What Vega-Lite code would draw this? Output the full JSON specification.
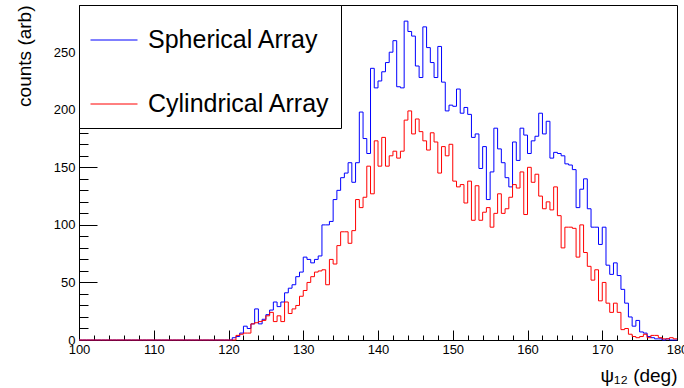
{
  "$schema": "https://vega.github.io/schema/vega-lite/v6.json",
  "width": 598,
  "height": 335,
  "autosize": {"type": "none"},
  "padding": {"left": 79, "top": 5, "right": 7, "bottom": 48},
  "background": "white",
  "config": {"font": "Liberation Sans", "view": {"stroke": "#000", "strokeWidth": 1}},
  "data": {"values": [
    {"psi":100,"Spherical Array":0,"Cylindrical Array":0},{"psi":100.5,"Spherical Array":0,"Cylindrical Array":0},{"psi":101,"Spherical Array":0,"Cylindrical Array":0},{"psi":101.5,"Spherical Array":0,"Cylindrical Array":0},
    {"psi":102,"Spherical Array":0,"Cylindrical Array":0},{"psi":102.5,"Spherical Array":0,"Cylindrical Array":0},{"psi":103,"Spherical Array":0,"Cylindrical Array":0},{"psi":103.5,"Spherical Array":0,"Cylindrical Array":0},
    {"psi":104,"Spherical Array":0,"Cylindrical Array":0},{"psi":104.5,"Spherical Array":0,"Cylindrical Array":0},{"psi":105,"Spherical Array":0,"Cylindrical Array":0},{"psi":105.5,"Spherical Array":0,"Cylindrical Array":0},
    {"psi":106,"Spherical Array":0,"Cylindrical Array":0},{"psi":106.5,"Spherical Array":0,"Cylindrical Array":0},{"psi":107,"Spherical Array":0,"Cylindrical Array":0},{"psi":107.5,"Spherical Array":0,"Cylindrical Array":0},
    {"psi":108,"Spherical Array":0,"Cylindrical Array":0},{"psi":108.5,"Spherical Array":0,"Cylindrical Array":0},{"psi":109,"Spherical Array":0,"Cylindrical Array":0},{"psi":109.5,"Spherical Array":0,"Cylindrical Array":0},
    {"psi":110,"Spherical Array":0,"Cylindrical Array":0},{"psi":110.5,"Spherical Array":0,"Cylindrical Array":0},{"psi":111,"Spherical Array":0,"Cylindrical Array":0},{"psi":111.5,"Spherical Array":0,"Cylindrical Array":0},
    {"psi":112,"Spherical Array":0,"Cylindrical Array":0},{"psi":112.5,"Spherical Array":0,"Cylindrical Array":0},{"psi":113,"Spherical Array":0,"Cylindrical Array":0},{"psi":113.5,"Spherical Array":0,"Cylindrical Array":0},
    {"psi":114,"Spherical Array":0,"Cylindrical Array":0},{"psi":114.5,"Spherical Array":0,"Cylindrical Array":0},{"psi":115,"Spherical Array":0,"Cylindrical Array":0},{"psi":115.5,"Spherical Array":0,"Cylindrical Array":0},
    {"psi":116,"Spherical Array":0,"Cylindrical Array":0},{"psi":116.5,"Spherical Array":0,"Cylindrical Array":0},{"psi":117,"Spherical Array":0,"Cylindrical Array":0},{"psi":117.5,"Spherical Array":0,"Cylindrical Array":0},
    {"psi":118,"Spherical Array":0,"Cylindrical Array":0},{"psi":118.5,"Spherical Array":0,"Cylindrical Array":0},{"psi":119,"Spherical Array":0,"Cylindrical Array":0},{"psi":119.5,"Spherical Array":0,"Cylindrical Array":0},
    {"psi":120,"Spherical Array":0,"Cylindrical Array":0},{"psi":120.5,"Spherical Array":2,"Cylindrical Array":0},{"psi":121,"Spherical Array":3,"Cylindrical Array":4},{"psi":121.5,"Spherical Array":6,"Cylindrical Array":5},
    {"psi":122,"Spherical Array":12,"Cylindrical Array":6},{"psi":122.5,"Spherical Array":10,"Cylindrical Array":6},{"psi":123,"Spherical Array":14,"Cylindrical Array":14},{"psi":123.5,"Spherical Array":27,"Cylindrical Array":15},
    {"psi":124,"Spherical Array":14,"Cylindrical Array":16},{"psi":124.5,"Spherical Array":18,"Cylindrical Array":17},{"psi":125,"Spherical Array":22,"Cylindrical Array":21},{"psi":125.5,"Spherical Array":26,"Cylindrical Array":24},
    {"psi":126,"Spherical Array":33,"Cylindrical Array":16},{"psi":126.5,"Spherical Array":29,"Cylindrical Array":21},{"psi":127,"Spherical Array":33,"Cylindrical Array":16},{"psi":127.5,"Spherical Array":41,"Cylindrical Array":33},
    {"psi":128,"Spherical Array":45,"Cylindrical Array":23},{"psi":128.5,"Spherical Array":48,"Cylindrical Array":27},{"psi":129,"Spherical Array":55,"Cylindrical Array":30},{"psi":129.5,"Spherical Array":59,"Cylindrical Array":38},
    {"psi":130,"Spherical Array":72,"Cylindrical Array":43},{"psi":130.5,"Spherical Array":70,"Cylindrical Array":50},{"psi":131,"Spherical Array":67,"Cylindrical Array":55},{"psi":131.5,"Spherical Array":70,"Cylindrical Array":59},
    {"psi":132,"Spherical Array":73,"Cylindrical Array":60},{"psi":132.5,"Spherical Array":100,"Cylindrical Array":61},{"psi":133,"Spherical Array":100,"Cylindrical Array":48},{"psi":133.5,"Spherical Array":103,"Cylindrical Array":70},
    {"psi":134,"Spherical Array":122,"Cylindrical Array":66},{"psi":134.5,"Spherical Array":130,"Cylindrical Array":82},{"psi":135,"Spherical Array":141,"Cylindrical Array":94},{"psi":135.5,"Spherical Array":145,"Cylindrical Array":94},
    {"psi":136,"Spherical Array":154,"Cylindrical Array":84},{"psi":136.5,"Spherical Array":137,"Cylindrical Array":95},{"psi":137,"Spherical Array":154,"Cylindrical Array":122},{"psi":137.5,"Spherical Array":198,"Cylindrical Array":115},
    {"psi":138,"Spherical Array":175,"Cylindrical Array":124},{"psi":138.5,"Spherical Array":162,"Cylindrical Array":151},{"psi":139,"Spherical Array":236,"Cylindrical Array":127},{"psi":139.5,"Spherical Array":219,"Cylindrical Array":173},
    {"psi":140,"Spherical Array":225,"Cylindrical Array":151},{"psi":140.5,"Spherical Array":233,"Cylindrical Array":176},{"psi":141,"Spherical Array":241,"Cylindrical Array":151},{"psi":141.5,"Spherical Array":250,"Cylindrical Array":160},
    {"psi":142,"Spherical Array":260,"Cylindrical Array":164},{"psi":142.5,"Spherical Array":220,"Cylindrical Array":158},{"psi":143,"Spherical Array":219,"Cylindrical Array":164},{"psi":143.5,"Spherical Array":277,"Cylindrical Array":191},
    {"psi":144,"Spherical Array":268,"Cylindrical Array":199},{"psi":144.5,"Spherical Array":264,"Cylindrical Array":179},{"psi":145,"Spherical Array":238,"Cylindrical Array":192},{"psi":145.5,"Spherical Array":228,"Cylindrical Array":181},
    {"psi":146,"Spherical Array":272,"Cylindrical Array":173},{"psi":146.5,"Spherical Array":254,"Cylindrical Array":165},{"psi":147,"Spherical Array":241,"Cylindrical Array":180},{"psi":147.5,"Spherical Array":228,"Cylindrical Array":172},
    {"psi":148,"Spherical Array":255,"Cylindrical Array":145},{"psi":148.5,"Spherical Array":224,"Cylindrical Array":168},{"psi":149,"Spherical Array":199,"Cylindrical Array":160},{"psi":149.5,"Spherical Array":204,"Cylindrical Array":170},
    {"psi":150,"Spherical Array":203,"Cylindrical Array":138},{"psi":150.5,"Spherical Array":218,"Cylindrical Array":133},{"psi":151,"Spherical Array":197,"Cylindrical Array":135},{"psi":151.5,"Spherical Array":202,"Cylindrical Array":119},
    {"psi":152,"Spherical Array":196,"Cylindrical Array":138},{"psi":152.5,"Spherical Array":176,"Cylindrical Array":104},{"psi":153,"Spherical Array":179,"Cylindrical Array":134},{"psi":153.5,"Spherical Array":149,"Cylindrical Array":104},
    {"psi":154,"Spherical Array":168,"Cylindrical Array":111},{"psi":154.5,"Spherical Array":122,"Cylindrical Array":115},{"psi":155,"Spherical Array":146,"Cylindrical Array":98},{"psi":155.5,"Spherical Array":184,"Cylindrical Array":110},
    {"psi":156,"Spherical Array":166,"Cylindrical Array":127},{"psi":156.5,"Spherical Array":154,"Cylindrical Array":110},{"psi":157,"Spherical Array":141,"Cylindrical Array":114},{"psi":157.5,"Spherical Array":133,"Cylindrical Array":124},
    {"psi":158,"Spherical Array":172,"Cylindrical Array":135},{"psi":158.5,"Spherical Array":156,"Cylindrical Array":132},{"psi":159,"Spherical Array":184,"Cylindrical Array":146},{"psi":159.5,"Spherical Array":178,"Cylindrical Array":109},
    {"psi":160,"Spherical Array":162,"Cylindrical Array":150},{"psi":160.5,"Spherical Array":173,"Cylindrical Array":137},{"psi":161,"Spherical Array":177,"Cylindrical Array":144},{"psi":161.5,"Spherical Array":197,"Cylindrical Array":125},
    {"psi":162,"Spherical Array":179,"Cylindrical Array":114},{"psi":162.5,"Spherical Array":190,"Cylindrical Array":120},{"psi":163,"Spherical Array":158,"Cylindrical Array":113},{"psi":163.5,"Spherical Array":163,"Cylindrical Array":133},
    {"psi":164,"Spherical Array":162,"Cylindrical Array":108},{"psi":164.5,"Spherical Array":160,"Cylindrical Array":80},{"psi":165,"Spherical Array":153,"Cylindrical Array":98},{"psi":165.5,"Spherical Array":152,"Cylindrical Array":98},
    {"psi":166,"Spherical Array":148,"Cylindrical Array":97},{"psi":166.5,"Spherical Array":115,"Cylindrical Array":72},{"psi":167,"Spherical Array":131,"Cylindrical Array":100},{"psi":167.5,"Spherical Array":140,"Cylindrical Array":76},
    {"psi":168,"Spherical Array":114,"Cylindrical Array":64},{"psi":168.5,"Spherical Array":98,"Cylindrical Array":52},{"psi":169,"Spherical Array":98,"Cylindrical Array":61},{"psi":169.5,"Spherical Array":83,"Cylindrical Array":34},
    {"psi":170,"Spherical Array":98,"Cylindrical Array":50},{"psi":170.5,"Spherical Array":65,"Cylindrical Array":32},{"psi":171,"Spherical Array":57,"Cylindrical Array":24},{"psi":171.5,"Spherical Array":67,"Cylindrical Array":32},
    {"psi":172,"Spherical Array":56,"Cylindrical Array":24},{"psi":172.5,"Spherical Array":44,"Cylindrical Array":9},{"psi":173,"Spherical Array":32,"Cylindrical Array":10},{"psi":173.5,"Spherical Array":20,"Cylindrical Array":5},
    {"psi":174,"Spherical Array":12,"Cylindrical Array":3},{"psi":174.5,"Spherical Array":17,"Cylindrical Array":2},{"psi":175,"Spherical Array":7,"Cylindrical Array":3},{"psi":175.5,"Spherical Array":6,"Cylindrical Array":5},
    {"psi":176,"Spherical Array":3,"Cylindrical Array":2},{"psi":176.5,"Spherical Array":2,"Cylindrical Array":4},{"psi":177,"Spherical Array":1,"Cylindrical Array":4},{"psi":177.5,"Spherical Array":1,"Cylindrical Array":2},
    {"psi":178,"Spherical Array":0,"Cylindrical Array":1},{"psi":178.5,"Spherical Array":1,"Cylindrical Array":1},{"psi":179,"Spherical Array":0,"Cylindrical Array":2},{"psi":179.5,"Spherical Array":0,"Cylindrical Array":1},
    {"psi":180,"Spherical Array":0,"Cylindrical Array":1}
  ]},
  "transform": [{"fold": ["Spherical Array", "Cylindrical Array"], "as": ["series", "count"]}],
  "mark": {"type": "line", "interpolate": "step-after", "strokeWidth": 1},
  "encoding": {
    "x": {
      "field": "psi", "type": "quantitative",
      "scale": {"domain": [100, 180], "nice": false, "zero": false},
      "axis": {
        "values": [100,102,104,106,108,110,112,114,116,118,120,122,124,126,128,130,132,134,136,138,140,142,144,146,148,150,152,154,156,158,160,162,164,166,168,170,172,174,176,178,180],
        "tickSize": {"condition": {"test": "datum.value % 10 === 0", "value": -10}, "value": -5},
        "labelExpr": "datum.value % 10 === 0 ? datum.label : ''",
        "labelOverlap": false, "labelFlush": false,
        "grid": false, "domainColor": "#000", "tickColor": "#000",
        "labelFontSize": 13, "labelColor": "#000", "labelPadding": 13,
        "title": "ψ₁₂ (deg)", "titleAnchor": "end", "titleFontSize": 19,
        "titleFontWeight": "normal", "titleColor": "#000", "titlePadding": 5
      }
    },
    "y": {
      "field": "count", "type": "quantitative",
      "scale": {"domain": [0, 291], "nice": false},
      "axis": {
        "values": [0,10,20,30,40,50,60,70,80,90,100,110,120,130,140,150,160,170,180,190,200,210,220,230,240,250,260,270,280,290],
        "tickSize": {"condition": {"test": "datum.value % 50 === 0", "value": -18}, "value": -9},
        "labelExpr": "datum.value % 50 === 0 ? datum.label : ''",
        "labelOverlap": false, "labelFlush": false,
        "grid": false, "domainColor": "#000", "tickColor": "#000",
        "labelFontSize": 13, "labelColor": "#000", "labelPadding": 22,
        "title": "counts (arb)", "titleAnchor": "end", "titleFontSize": 19,
        "titleFontWeight": "normal", "titleColor": "#000", "titlePadding": 19
      }
    },
    "color": {
      "field": "series", "type": "nominal",
      "scale": {"domain": ["Spherical Array", "Cylindrical Array"], "range": ["#0000ff", "#ff0000"]},
      "legend": {
        "orient": "none", "legendX": 0, "legendY": 0, "title": null,
        "symbolType": "stroke", "symbolSize": 2209, "symbolStrokeWidth": 1,
        "labelFontSize": 25, "labelColor": "#000", "labelOffset": 10, "labelLimit": 400,
        "labelExpr": "datum.label + '\u2002'",
        "padding": 11, "rowPadding": 27,
        "strokeColor": "#000", "fillColor": "#ffffff"
      }
    }
  }
}
